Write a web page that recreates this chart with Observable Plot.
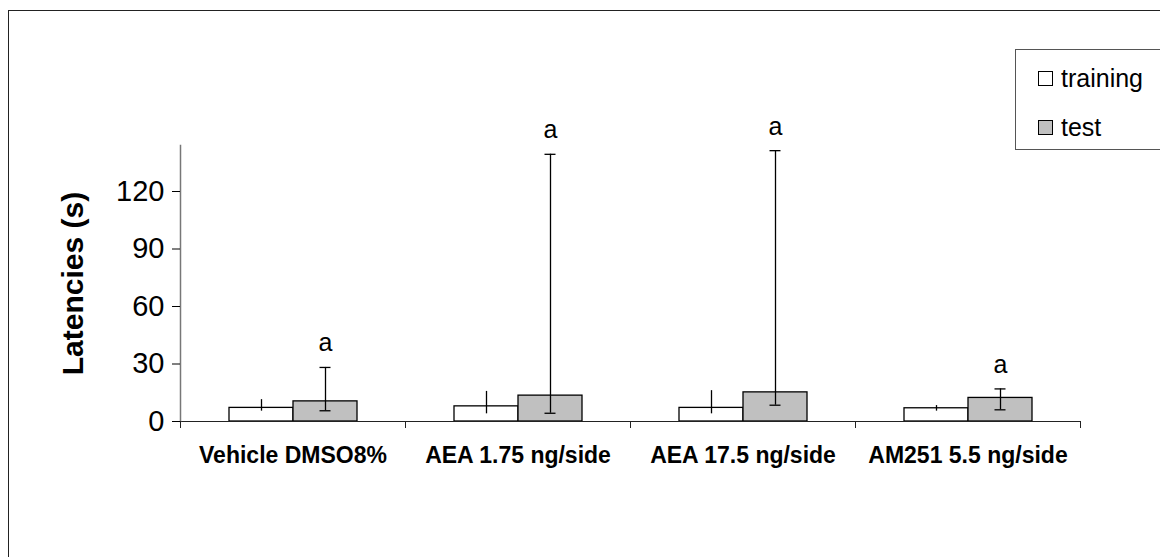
<!DOCTYPE html>
<html>
<head>
<meta charset="utf-8">
<script src="https://cdn.jsdelivr.net/npm/d3@7"></script>
<script src="https://cdn.jsdelivr.net/npm/@observablehq/plot@0.6"></script>
<style>
  html, body { margin: 0; padding: 0; background: #fff; }
  body { font-family: "Liberation Sans", Arial, sans-serif; }
  #wrap { position: relative; width: 1160px; height: 557px; overflow: hidden; }
  #border { position: absolute; left: 8px; top: 10px; width: 1400px; height: 800px; border: 1px solid #222; pointer-events: none; }
  #legend { position: absolute; left: 1015px; top: 49px; width: 400px; height: 99px; border: 1px solid #555; background: #fff; }
  .item { position: absolute; left: 22px; height: 28px; display: flex; align-items: center; font-size: 25px; color: #000; }
  .sw { width: 13px; height: 13px; border: 1px solid #000; margin-right: 8px; }
  svg [aria-label="y-axis label"] { font-weight: bold; font-size: 30px; }
</style>
</head>
<body>
<div id="wrap">
  <div id="chart"></div>
  <div id="border"></div>
  <div id="legend"></div>
</div>
<script>
// ---- data ----
const categories = ["Vehicle DMSO8%", "AEA 1.75 ng/side", "AEA 17.5 ng/side", "AM251 5.5 ng/side"];
const series = ["training", "test"];
const trainingMedian = [7.1, 7.9, 7.1, 6.9];
const trainingLow    = [5.4, 4.0, 4.0, 5.4];
const trainingHigh   = [11.4, 15.7, 16.1, 8.3];
const testMedian     = [10.5, 13.5, 15.2, 12.3];
const testLow        = [5.6, 4.3, 8.5, 6.1];
const testHigh       = [28.2, 139.4, 141.3, 17.0];
const testLetters    = ["a", "a", "a", "a"];
const yTicks = [0, 30, 60, 90, 120];
const yMax = 144;
const seriesFill = ["#ffffff", "#c0c0c0"];

// ---- table ----
const rows = [];
categories.forEach((cat, i) => {
  rows.push({cat, series: "training", median: trainingMedian[i], low: trainingLow[i], high: trainingHigh[i], letter: ""});
  rows.push({cat, series: "test", median: testMedian[i], low: testLow[i], high: testHigh[i], letter: testLetters[i]});
});
const testRows = rows.filter(d => d.series === "test");

const chart = Plot.plot({
  width: 1160,
  height: 557,
  marginLeft: 180,
  marginRight: 80,
  marginTop: 145,
  marginBottom: 136,
  style: {fontFamily: "Liberation Sans, Arial, sans-serif", background: "transparent", color: "#000", overflow: "visible"},
  fx: {domain: categories, padding: 0, label: null},
  x: {domain: series, paddingInner: 0, paddingOuter: 0.7308, axis: null},
  y: {domain: [0, yMax], label: null},
  color: {domain: series, range: seriesFill},
  marks: [
    Plot.barY(rows, {fx: "cat", x: "series", y: "median", fill: "series", stroke: "#000", strokeWidth: 1.3}),
    Plot.ruleX(rows, {fx: "cat", x: "series", y1: "low", y2: "high", stroke: "#000", strokeWidth: 1.3}),
    Plot.tickY(testRows, {fx: "cat", x: "series", y: "low", stroke: "#000", strokeWidth: 1.3, insetLeft: 26.5, insetRight: 26.5}),
    Plot.tickY(testRows, {fx: "cat", x: "series", y: "high", stroke: "#000", strokeWidth: 1.3, insetLeft: 26.5, insetRight: 26.5}),
    Plot.text(testRows, {fx: "cat", x: "series", y: "high", text: "letter", dy: -24, fontSize: 25, fill: "#000"}),
    Plot.ruleY([0], {stroke: "#222", strokeWidth: 1.2}),
    Plot.frame({anchor: "left", stroke: "#777", strokeWidth: 1.5, facetAnchor: "left"}),
    Plot.axisY({ticks: yTicks, tickSize: 8, tickPadding: 8, fontSize: 29, label: "Latencies (s)", labelAnchor: "center", labelOffset: 119, labelArrow: "none"}),
    Plot.axisFx({anchor: "bottom", tickSize: 0, tickPadding: 25, fontSize: 23, fontWeight: "bold", label: null}),
    Plot.axisFx({anchor: "bottom", tickSize: 7, tickFormat: () => "", dx: -112.5, label: null, stroke: "#222"}),
    Plot.axisFx([categories[categories.length - 1]], {anchor: "bottom", tickSize: 7, tickFormat: () => "", dx: 112.5, label: null, stroke: "#222"})
  ]
});
document.getElementById("chart").appendChild(chart);

// ---- legend ----
const legend = document.getElementById("legend");
series.forEach((s, i) => {
  const item = document.createElement("div");
  item.className = "item";
  item.style.top = (14 + i * 49) + "px";
  const sw = document.createElement("span");
  sw.className = "sw";
  sw.style.background = seriesFill[i];
  const t = document.createElement("span");
  t.textContent = s;
  item.appendChild(sw);
  item.appendChild(t);
  legend.appendChild(item);
});
</script>
</body>
</html>
